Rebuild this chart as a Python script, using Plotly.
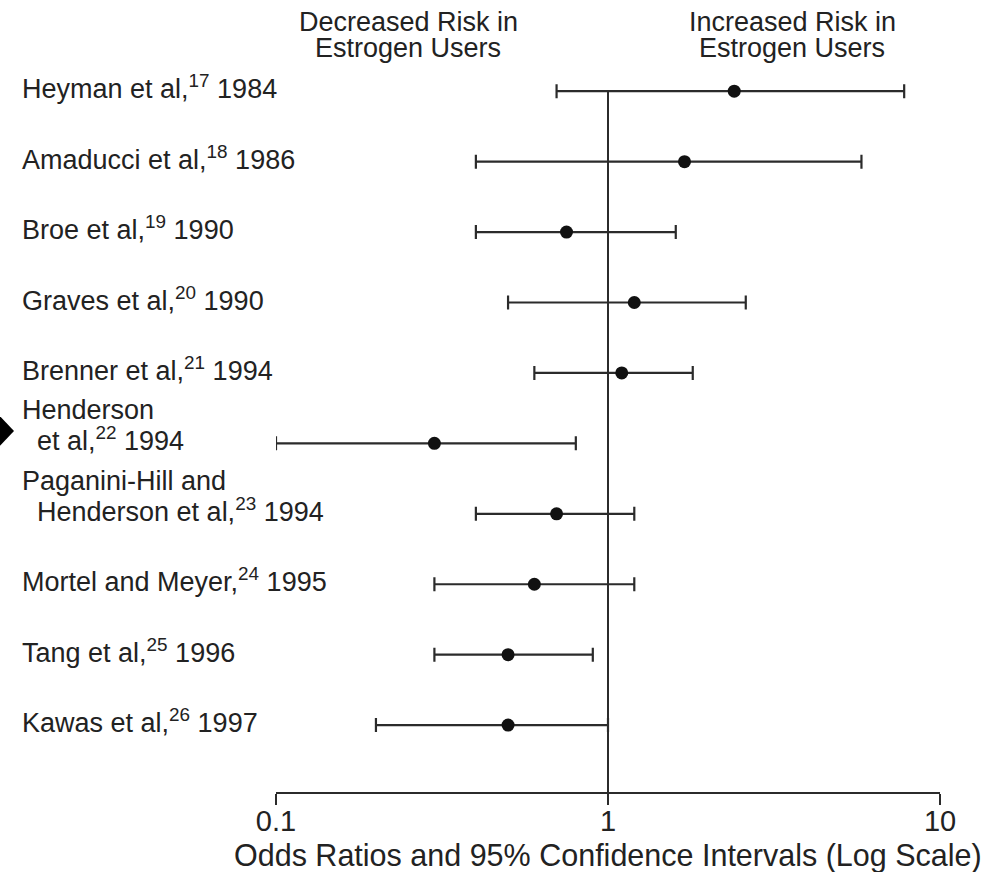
import plotly.graph_objects as go

# ---- study data (odds ratios with 95% confidence limits) ----
label_lines = [
    ["Heyman et al,"],
    ["Amaducci et al,"],
    ["Broe et al,"],
    ["Graves et al,"],
    ["Brenner et al,"],
    ["Henderson", "\u00a0\u00a0et al,"],
    ["Paganini-Hill and", "\u00a0\u00a0Henderson et al,"],
    ["Mortel and Meyer,"],
    ["Tang et al,"],
    ["Kawas et al,"],
]
refs = ["17", "18", "19", "20", "21", "22", "23", "24", "25", "26"]
years = ["1984", "1986", "1990", "1990", "1994", "1994", "1994", "1995", "1996", "1997"]
odds = [2.4, 1.7, 0.75, 1.2, 1.1, 0.3, 0.7, 0.6, 0.5, 0.5]
ci_low = [0.7, 0.4, 0.4, 0.5, 0.6, 0.1, 0.4, 0.3, 0.3, 0.2]
ci_high = [7.8, 5.8, 1.6, 2.6, 1.8, 0.8, 1.2, 1.2, 0.9, 1.0]
x_ticks = [0.1, 1, 10]
x_tick_labels = ["0.1", "1", "10"]
header_left = ["Decreased Risk in", "Estrogen Users"]
header_right = ["Increased Risk in", "Estrogen Users"]
x_title = "Odds Ratios and 95% Confidence Intervals (Log Scale)"

# ---- page geometry ----
W, H = 986, 872
M_L, M_R, M_T, M_B = 276, 46, 56, 80
PLOT_W = W - M_L - M_R
PLOT_H = H - M_T - M_B
FONT = "Liberation Sans, Arial, Helvetica, sans-serif"
INK = "#222222"
LINE = "#2b2b2b"

n = len(odds)
rows = list(range(n))
y_top, y_bottom = -0.5, n - 0.05


def paper_x(px):
    return (px - M_L) / PLOT_W


def paper_y(py):
    return (H - M_B - py) / PLOT_H


fig = go.Figure()

fig.add_trace(go.Scatter(
    x=odds,
    y=rows,
    mode="markers",
    marker=dict(color="#111111", size=13, line=dict(width=0)),
    error_x=dict(
        type="data",
        symmetric=False,
        array=[h - o for h, o in zip(ci_high, odds)],
        arrayminus=[o - l for o, l in zip(odds, ci_low)],
        color=LINE,
        thickness=2.2,
        width=7,
    ),
    showlegend=False,
    hoverinfo="skip",
))

annotations = []
# study labels
for r, lines, ref, yr in zip(rows, label_lines, refs, years):
    last = f"{lines[-1]}<sup>{ref}</sup> {yr}"
    texts = lines[:-1] + [last]
    k = len(texts)
    for i, t in enumerate(texts):
        annotations.append(dict(
            text=t, xref="paper", yref="y", x=paper_x(20), y=r,
            xanchor="left", yanchor="middle", showarrow=False,
            yshift=4 + (k - 1 - i) * 29,
            font=dict(family=FONT, size=27, color=INK),
        ))

# column headers
for cx, lines in ((408, header_left), (792, header_right)):
    for py, t in zip((22, 48), lines):
        annotations.append(dict(
            text=t, xref="paper", yref="paper", x=paper_x(cx), y=paper_y(py),
            xanchor="center", yanchor="middle", showarrow=False,
            font=dict(family=FONT, size=27, color=INK),
        ))

# axis caption under the tick labels
annotations.append(dict(
    text=x_title, xref="paper", yref="paper", x=0.5, y=paper_y(855),
    xanchor="center", yanchor="middle", showarrow=False,
    font=dict(family=FONT, size=30.5, color=INK),
))

fig.update_layout(
    width=W, height=H,
    margin=dict(l=M_L, r=M_R, t=M_T, b=M_B, pad=0),
    paper_bgcolor="white",
    plot_bgcolor="white",
    font=dict(family=FONT, color=INK),
    annotations=annotations,
    xaxis=dict(
        type="log",
        range=[-1, 1],
        tickvals=x_ticks,
        ticktext=x_tick_labels,
        ticks="outside",
        ticklen=11,
        tickwidth=2,
        tickcolor=LINE,
        ticklabelstandoff=-9,
        showline=True,
        linecolor=LINE,
        linewidth=2,
        showgrid=False,
        zeroline=False,
        tickfont=dict(family=FONT, size=29, color=INK),
        automargin=False,
    ),
    yaxis=dict(
        range=[y_bottom, y_top],
        visible=False,
        showgrid=False,
        zeroline=False,
    ),
    shapes=[
        # reference line at OR = 1 (centre of the log range)
        dict(type="line", xref="x domain", yref="y",
             x0=0.5, x1=0.5, y0=rows[0], y1=y_bottom,
             line=dict(color=LINE, width=2)),
        # arrowhead pointing at the Henderson row from the page edge
        dict(type="path", xref="paper", yref="paper",
             path=(f"M {paper_x(-6)} {paper_y(410)} L {paper_x(14)} {paper_y(431)} "
                   f"L {paper_x(-6)} {paper_y(452)} Z"),
             fillcolor="#000000", line=dict(width=0)),
    ],
)

fig.write_html("out.html")
